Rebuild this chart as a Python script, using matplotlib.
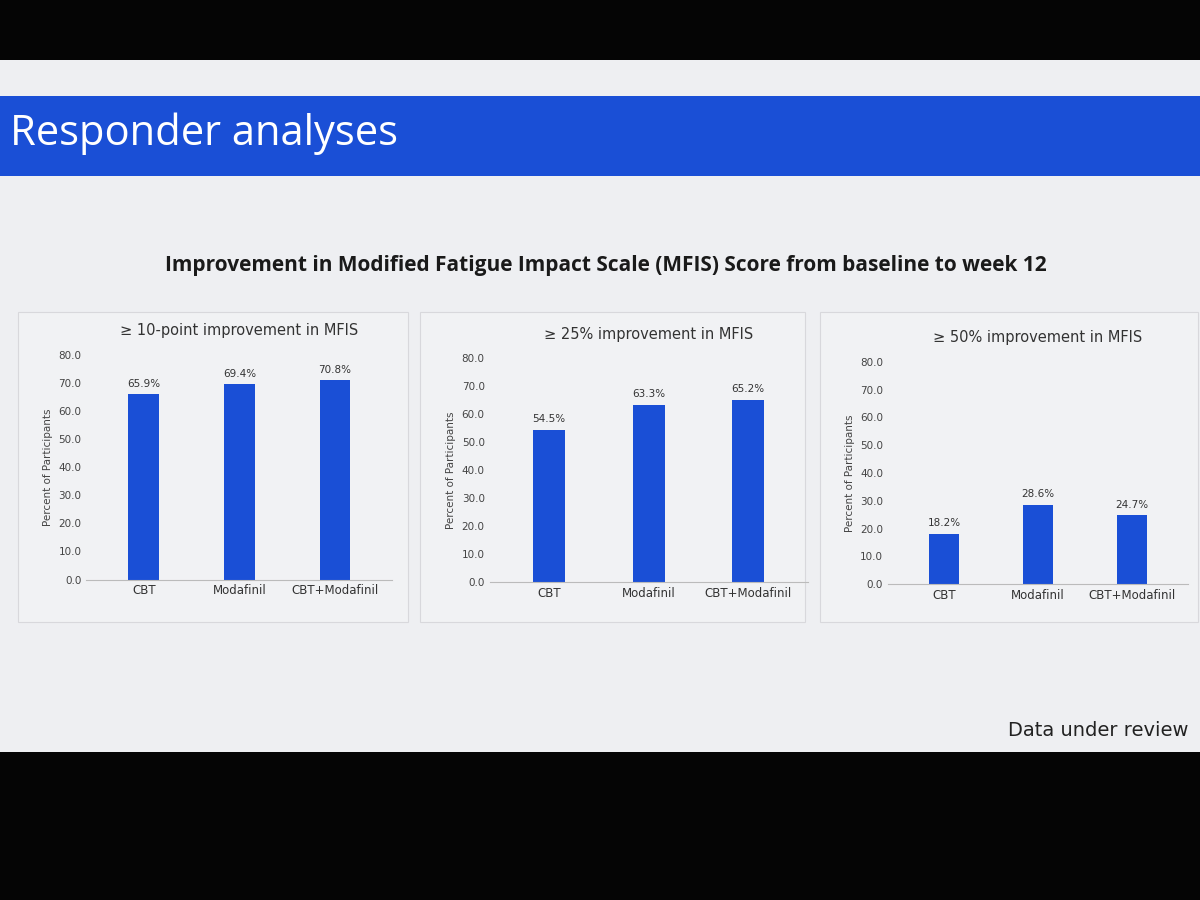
import matplotlib.pyplot as plt
from matplotlib.patches import Rectangle

groups = ['CBT', 'Modafinil', 'CBT+Modafinil']
ten_point = [65.9, 69.4, 70.8]
pct25 = [54.5, 63.3, 65.2]
pct50 = [18.2, 28.6, 24.7]
panel_titles = ['≥ 10-point improvement in MFIS', '≥ 25% improvement in MFIS', '≥ 50% improvement in MFIS']
yticks = [0, 10, 20, 30, 40, 50, 60, 70, 80]

blue = '#1a4fd6'
fig = plt.figure(figsize=(12, 9), dpi=100)
fig.patch.set_facecolor('#050505')

# slide background and header bar
fig.add_artist(Rectangle((0, 1 - 752 / 900), 1, (752 - 60) / 900, transform=fig.transFigure,
                         facecolor='#eeeff2', edgecolor='none', zorder=0))
fig.add_artist(Rectangle((0, 1 - 176 / 900), 1, 80 / 900, transform=fig.transFigure,
                         facecolor=blue, edgecolor='none', zorder=1))
fig.text(0.008, 1 - 134 / 900, 'Responder analyses', color='white', fontsize=30,
         va='center', family='Open Sans')
fig.text(0.505, 1 - 265 / 900, 'Improvement in Modified Fatigue Impact Scale (MFIS) Score from baseline to week 12',
         ha='center', va='center', fontsize=15, fontweight='bold', color='#1a1a1a', family='Open Sans')
fig.text(0.99, 1 - 730 / 900, 'Data under review', ha='right', va='center', fontsize=14, color='#222222')

# panel frames
frames = [(18, 408), (420, 805), (820, 1198)]
for x0, x1 in frames:
    fig.add_artist(Rectangle((x0 / 1200, 1 - 622 / 900), (x1 - x0) / 1200, 310 / 900,
                             transform=fig.transFigure, facecolor='#f1f2f4',
                             edgecolor='#d8d8dc', linewidth=0.8, zorder=1))

axes_pos = [[0.072, 0.356, 0.255, 0.25], [0.408, 0.353, 0.265, 0.249], [0.74, 0.351, 0.25, 0.247]]
data = [ten_point, pct25, pct50]
for pos, vals, title in zip(axes_pos, data, panel_titles):
    ax = fig.add_axes(pos, zorder=2)
    ax.set_facecolor('none')
    x = range(len(groups))
    ax.bar(x, vals, width=0.32, color=blue)
    for xi, v in zip(x, vals):
        ax.text(xi, v + 2, f'{v}%', ha='center', va='bottom', fontsize=7.5, color='#333333')
    ax.set_ylim(0, 80)
    ax.set_yticks(yticks)
    ax.set_yticklabels([f'{t:.1f}' for t in yticks], fontsize=7.5, color='#444444')
    ax.set_xticks(list(x))
    ax.set_xticklabels(groups, fontsize=8.5, color='#333333')
    ax.set_xlim(-0.6, 2.6)
    ax.set_ylabel('Percent of Participants', fontsize=7.5, color='#444444')
    ax.set_title(title, fontsize=10.5, color='#333333', pad=14)
    for s in ['top', 'right', 'left']:
        ax.spines[s].set_visible(False)
    ax.spines['bottom'].set_color('#bbbbbb')
    ax.tick_params(length=0)

fig.savefig('out.png', dpi=100, facecolor=fig.get_facecolor())
